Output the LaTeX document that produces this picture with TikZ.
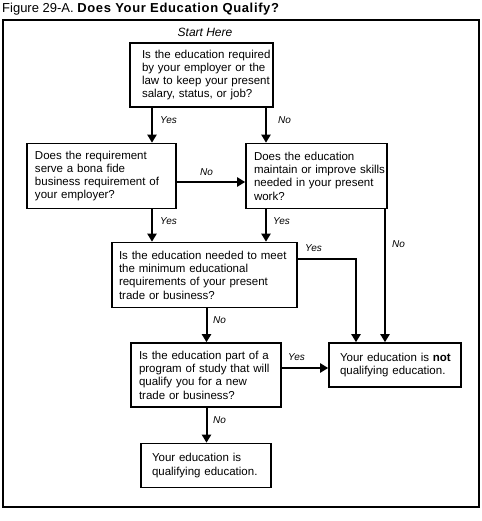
\documentclass[tikz,border=0pt]{standalone}
\usepackage{fontspec}
\setmainfont{Liberation Sans}
\usetikzlibrary{arrows.meta}
\tikzset{qbox/.style={draw, line width=1.6pt, align=left, inner sep=0pt,
    execute at begin node={\leftskip=#1}}, qbox/.default=8pt}
\begin{document}
\begin{tikzpicture}[x=1pt,y=-1pt]
        \tikzstyle{every node}=[font=\fontsize{11.5}{13.3}\selectfont];
        \tikzstyle{ans}=[anchor=west, inner sep=0pt, font=\fontsize{10}{12}\selectfont\itshape];
        \tikzstyle{arr}=[line width=2pt, -{Triangle[length=8pt,width=9pt]}];
        \useasboundingbox (0,0) rectangle (481,521);
        %title, frame
        \node[anchor=base west, inner sep=0pt, font=\fontsize{13}{15}\selectfont] (title) at (2,13)
            {Figure 29-A. \textbf{\addfontfeature{LetterSpace=5}Does Your Education Qualify?}};
        \draw[line width=1.6pt] (3,20) rectangle (479,507);
        \node[font=\fontsize{12}{14}\selectfont\itshape] (start) at (205,32.5) {Start Here};
        %lanes for the vertical arrows
        \coordinate (xL) at (152,0);
        \coordinate (xR) at (266,0);
        \coordinate (xM) at (206.5,0);
        \coordinate (xY) at (356,0);
        \coordinate (xN) at (385,0);
        %questions
        \node[qbox=12pt, text width=143pt, minimum height=64pt] (q1) at (201.5,75)
            {Is the education required\\by your employer or the\\law to keep your present\\salary, status, or job?};
        \node[qbox, text width=149pt, minimum height=65pt] (q2) at (101.5,176)
            {Does the requirement\\serve a bona fide\\business requirement of\\your employer?};
        \node[qbox, text width=141pt, minimum height=65pt] (q3) at (316.5,176)
            {Does the education\\maintain or improve skills\\needed in your present\\work?};
        \node[qbox=7pt, text width=185pt, minimum height=65pt] (q4) at (204.5,275)
            {Is the education needed to meet\\the minimum educational\\requirements of your present\\trade or business?};
        \node[qbox, text width=150pt, minimum height=64pt] (q5) at (206,375)
            {Is the education part of a\\program of study that will\\qualify you for a new\\trade or business?};
        %answers
        \node[qbox=11pt, text width=132pt, minimum height=44pt] (notq) at (395,365)
            {Your education is \textbf{not}\\qualifying education.};
        \node[qbox=11pt, text width=130pt, minimum height=44pt] (isq) at (206,465.5)
            {Your education is\\qualifying education.};
        %arrows
        \draw[arr] (q1.south -| xL) -- (q2.north -| xL);
        \draw[arr] (q1.south -| xR) -- (q3.north -| xR);
        \draw[arr] ([yshift=-6pt]q2.east) -- ([yshift=-6pt]q3.west);
        \draw[arr] (q2.south -| xL) -- (q4.north -| xL);
        \draw[arr] (q3.south -| xR) -- (q4.north -| xR);
        \draw[arr] (q3.south -| xN) -- (notq.north -| xN);
        \draw[arr] ([yshift=16pt]q4.east) -| (notq.north -| xY);
        \draw[arr] (q4.south -| xM) -- (q5.north -| xM);
        \draw[arr] (q5.east |- notq.west) ++(0,3) -- ([yshift=-3pt]notq.west);
        \draw[arr] (q5.south -| xM) -- (isq.north -| xM);
        %labels
        \node[ans] (y1) at (160,120) {Yes};
        \node[ans] (n1) at (278,120) {No};
        \node[ans] (n2) at (200,172) {No};
        \node[ans] (y2) at (160,221) {Yes};
        \node[ans] (y3) at (273,221) {Yes};
        \node[ans] (n3) at (392,244) {No};
        \node[ans] (y4) at (305,248) {Yes};
        \node[ans] (n4) at (213,320) {No};
        \node[ans] (y5) at (288,357) {Yes};
        \node[ans] (n5) at (213,420) {No};
\end{tikzpicture}
\end{document}
